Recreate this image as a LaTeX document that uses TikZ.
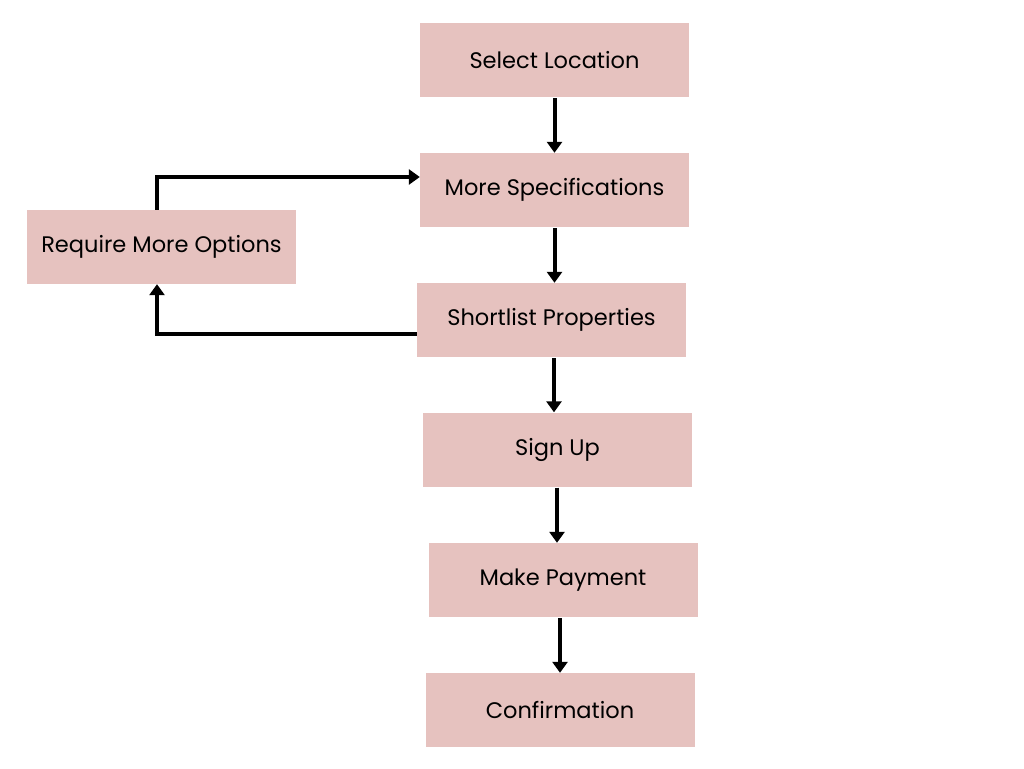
\documentclass[tikz,border=0pt]{standalone}
\usepackage{fontspec}
\setmainfont{Poppins}
\usetikzlibrary{arrows, arrows.meta}
\definecolor{boxpink}{HTML}{E6C2BF}
\tikzset{stage/.style={fill=boxpink, minimum width=269pt, minimum height=74pt, inner sep=0pt, font=\fontsize{22.5}{25}\selectfont},
flow/.style={line width=4pt, -{Triangle[length=11pt,width=15pt]}}}

\begin{document}
\begin{tikzpicture}[x=1pt,y=-1pt]
\useasboundingbox (0,0) rectangle (1024,768);
\node[stage] (loc) at (554.5,60){Select Location};
\node[stage] (spec) at (554.5,190){More Specifications};
\node[stage] (more) at (161.5,247){Require More Options};
\node[stage] (short) at (551.5,320){Shortlist Properties};
\node[stage] (sign) at (557.5,449.5){Sign Up};
\node[stage] (pay) at (563,580){Make Payment};
\node[stage] (conf) at (560,710){Confirmation};

\draw[flow] ([yshift=-1pt]loc.south) -- (loc.south |- spec.north);
\draw[flow] ([yshift=-1pt]spec.south) -- (spec.south |- short.north);
\draw[flow] ([xshift=2.5pt,yshift=-1pt]short.south) -- ([xshift=2.5pt]short.south |- sign.north);
\draw[flow] ([xshift=-0.5pt,yshift=-1pt]sign.south) -- ([xshift=-0.5pt]sign.south |- pay.north);
\draw[flow] ([xshift=-3pt,yshift=-1pt]pay.south) -- ([xshift=-3pt]pay.south |- conf.north);

\draw[flow] ([xshift=-4.5pt]more.north) |- ([yshift=13pt]spec.west);
\draw[flow] ([yshift=-14pt]short.west) -| ([xshift=-4.5pt]more.south);
\end{tikzpicture}
\end{document}
